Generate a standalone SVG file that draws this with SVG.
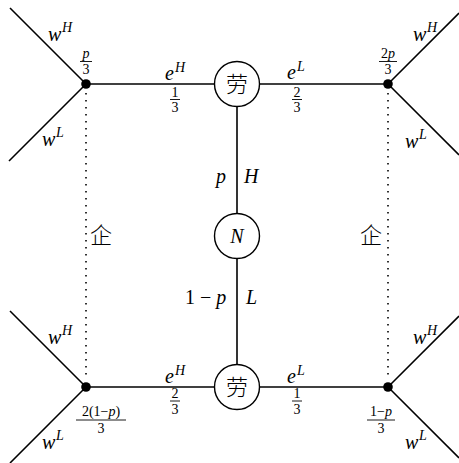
<svg xmlns="http://www.w3.org/2000/svg" width="459" height="463" viewBox="0 0 459 463">
<style>
.ln{stroke:#000;stroke-width:1.6;fill:none}
.dt{stroke:#000;stroke-width:1.6;stroke-dasharray:1.6 5.4;fill:none}
.nd{fill:#fff;stroke:#000;stroke-width:1.4}
.t{font-family:"Liberation Serif",serif;font-style:italic;font-size:20px;fill:#000}
.s{font-family:"Liberation Serif",serif;font-style:italic;font-size:14px;fill:#000}
.f{font-family:"Liberation Serif",serif;font-size:14px;fill:#000;text-anchor:middle}
.i{font-style:italic}
.r{font-family:"Liberation Serif",serif;font-size:20px;fill:#000}
.cj{font-family:"Noto Sans CJK SC","Noto Sans CJK JP",serif;font-size:22px;font-weight:300;fill:#000;text-anchor:middle}
.fb{stroke:#000;stroke-width:0.9}
</style>
<g id="connectors">
<line class="ln" x1="10" y1="8" x2="86" y2="84"/>
<line class="ln" x1="86" y1="84" x2="9" y2="161"/>
<line class="ln" x1="86" y1="84" x2="214" y2="84"/>
<line class="ln" x1="259" y1="84" x2="388" y2="84"/>
<line class="ln" x1="388" y1="84" x2="459" y2="13"/>
<line class="ln" x1="388" y1="84" x2="459" y2="155"/>
<line class="ln" x1="237" y1="107" x2="237" y2="213"/>
<line class="ln" x1="237" y1="259" x2="237" y2="364"/>
<line class="ln" x1="10" y1="311" x2="86" y2="387"/>
<line class="ln" x1="86" y1="387" x2="10" y2="463"/>
<line class="ln" x1="86" y1="387" x2="214" y2="387"/>
<line class="ln" x1="259" y1="387" x2="388" y2="387"/>
<line class="ln" x1="388" y1="387" x2="459" y2="316"/>
<line class="ln" x1="388" y1="387" x2="459" y2="458"/>
<line class="dt" x1="86" y1="93" x2="86" y2="380"/>
<line class="dt" x1="388" y1="93" x2="388" y2="380"/>
</g>
<g id="dotTL"><circle cx="86" cy="84" r="4.8"/></g>
<g id="dotTR"><circle cx="388" cy="84" r="4.8"/></g>
<g id="dotBL"><circle cx="86" cy="387" r="4.8"/></g>
<g id="dotBR"><circle cx="388" cy="387" r="4.8"/></g>
<g id="laborTop"><circle class="nd" cx="237" cy="84" r="22.5"/><text class="cj" x="237" y="92">劳</text></g>
<g id="nature"><circle class="nd" cx="237" cy="236" r="22.5"/><text class="t" x="237" y="243" text-anchor="middle" font-size="22">N</text></g>
<g id="laborBot"><circle class="nd" cx="237" cy="387" r="22.5"/><text class="cj" x="237" y="395">劳</text></g>
<g id="labels">
<text class="t" x="48" y="41">w</text><text class="s" x="62" y="32">H</text>
<text class="t" x="42" y="146">w</text><text class="s" x="56" y="137">L</text>
<text class="f i" x="86" y="58">p</text><line class="fb" x1="80" y1="61.5" x2="92" y2="61.5"/><text class="f" x="86" y="74">3</text>
<text class="t" x="165" y="80">e</text><text class="s" x="175" y="72">H</text>
<text class="f" x="175" y="97">1</text><line class="fb" x1="170" y1="99.5" x2="180" y2="99.5"/><text class="f" x="175" y="112">3</text>
<text class="t" x="287" y="79">e</text><text class="s" x="297" y="71">L</text>
<text class="f" x="297" y="97">2</text><line class="fb" x1="292" y1="99.5" x2="302" y2="99.5"/><text class="f" x="297" y="112">3</text>
<text class="f" x="388" y="58">2<tspan class="i">p</tspan></text><line class="fb" x1="379" y1="61.5" x2="397" y2="61.5"/><text class="f" x="388" y="74">3</text>
<text class="t" x="413" y="41">w</text><text class="s" x="427" y="32">H</text>
<text class="t" x="405" y="148">w</text><text class="s" x="419" y="139">L</text>
<text class="t" x="216" y="183">p</text><text class="t" x="244" y="183">H</text>
<text class="r" x="185" y="304">1 − <tspan class="i">p</tspan></text><text class="t" x="246" y="304">L</text>
<text class="cj" x="101" y="243">企</text>
<text class="cj" x="371" y="243">企</text>
<text class="t" x="48" y="344">w</text><text class="s" x="62" y="335">H</text>
<text class="t" x="42" y="449">w</text><text class="s" x="56" y="440">L</text>
<text class="f" x="101" y="416">2(1−<tspan class="i">p</tspan>)</text><line class="fb" x1="76" y1="420" x2="126" y2="420"/><text class="f" x="101" y="433">3</text>
<text class="t" x="165" y="383">e</text><text class="s" x="175" y="375">H</text>
<text class="f" x="175" y="398">2</text><line class="fb" x1="170" y1="401" x2="180" y2="401"/><text class="f" x="175" y="414">3</text>
<text class="t" x="287" y="383">e</text><text class="s" x="297" y="375">L</text>
<text class="f" x="297" y="398">1</text><line class="fb" x1="292" y1="401" x2="302" y2="401"/><text class="f" x="297" y="414">3</text>
<text class="f" x="381" y="416">1−<tspan class="i">p</tspan></text><line class="fb" x1="367" y1="420" x2="395" y2="420"/><text class="f" x="381" y="433">3</text>
<text class="t" x="413" y="344">w</text><text class="s" x="427" y="335">H</text>
<text class="t" x="405" y="449">w</text><text class="s" x="419" y="440">L</text>
</g>
</svg>
